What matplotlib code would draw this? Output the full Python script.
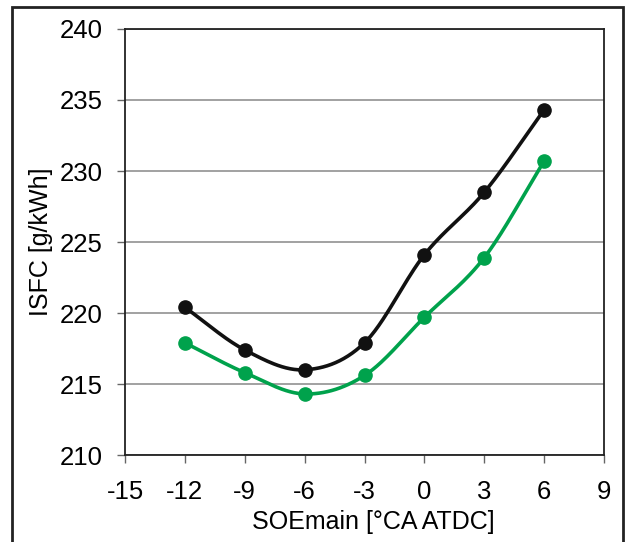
import numpy as np
import matplotlib
matplotlib.use("Agg")
from matplotlib import pyplot as plt
from matplotlib.patches import Rectangle

plt.rcParams['font.family'] = ['Liberation Sans', 'DejaVu Sans']
plt.rcParams['axes.unicode_minus'] = False

soe = [-12, -9, -6, -3, 0, 3, 6]
isfc_black = [220.4, 217.4, 216.0, 217.9, 224.1, 228.5, 234.3]
isfc_green = [217.9, 215.8, 214.3, 215.6, 219.7, 223.9, 230.7]

x_ticks = [-15, -12, -9, -6, -3, 0, 3, 6, 9]
y_ticks = [210, 215, 220, 225, 230, 235, 240]

BLACK = '#111111'
GREEN = '#00a24c'


def smooth(x, y, n=30):
    # catmull-rom style path through the points (like excel smoothed lines)
    x = np.asarray(x, float)
    y = np.asarray(y, float)
    px = np.concatenate([[2 * x[0] - x[1]], x, [2 * x[-1] - x[-2]]])
    py = np.concatenate([[2 * y[0] - y[1]], y, [2 * y[-1] - y[-2]]])
    xs, ys = [], []
    t = np.linspace(0, 1, n)
    for i in range(1, len(px) - 2):
        for p, out in ((px, xs), (py, ys)):
            p0, p1, p2, p3 = p[i - 1], p[i], p[i + 1], p[i + 2]
            out.extend(0.5 * (2 * p1 + (-p0 + p2) * t
                              + (2 * p0 - 5 * p1 + 4 * p2 - p3) * t ** 2
                              + (-p0 + 3 * p1 - 3 * p2 + p3) * t ** 3))
    return xs, ys


fig = plt.figure(figsize=(6.25, 5.42), dpi=100)
ax = fig.add_axes([0.2, 0.1605, 0.7664, 0.786])

for vals, col in ((isfc_black, BLACK), (isfc_green, GREEN)):
    sx, sy = smooth(soe, vals)
    ax.plot(sx, sy, color=col, lw=2.6, solid_capstyle='round', zorder=3)
    ax.plot(soe, vals, 'o', color=col, ms=9.5, zorder=4)

ax.set_xlim(-15, 9)
ax.set_ylim(210, 240)
ax.set_xticks(x_ticks)
ax.set_yticks(y_ticks)
ax.yaxis.grid(True, color='#9a9a9a', lw=1.3)
ax.set_axisbelow(True)
for s in ax.spines.values():
    s.set_color('#222222')
    s.set_linewidth(1.3)
ax.tick_params(direction='out', length=6, width=1, color='#666666',
               labelsize=18.5, pad=10)
ax.tick_params(axis='x', pad=12)
ax.set_xlabel('SOEmain [°CA ATDC]', fontsize=18, labelpad=4)
ax.xaxis.label.set_x(0.518)
ax.set_ylabel('ISFC [g/kWh]', fontsize=18, labelpad=5)

fig.patches.append(Rectangle((12 / 625, -0.05), (623 - 12) / 625, 1.05 - 7 / 542,
                             transform=fig.transFigure, fill=False,
                             edgecolor='#222222', lw=2, clip_on=False))

fig.savefig('out.png', dpi=100)
